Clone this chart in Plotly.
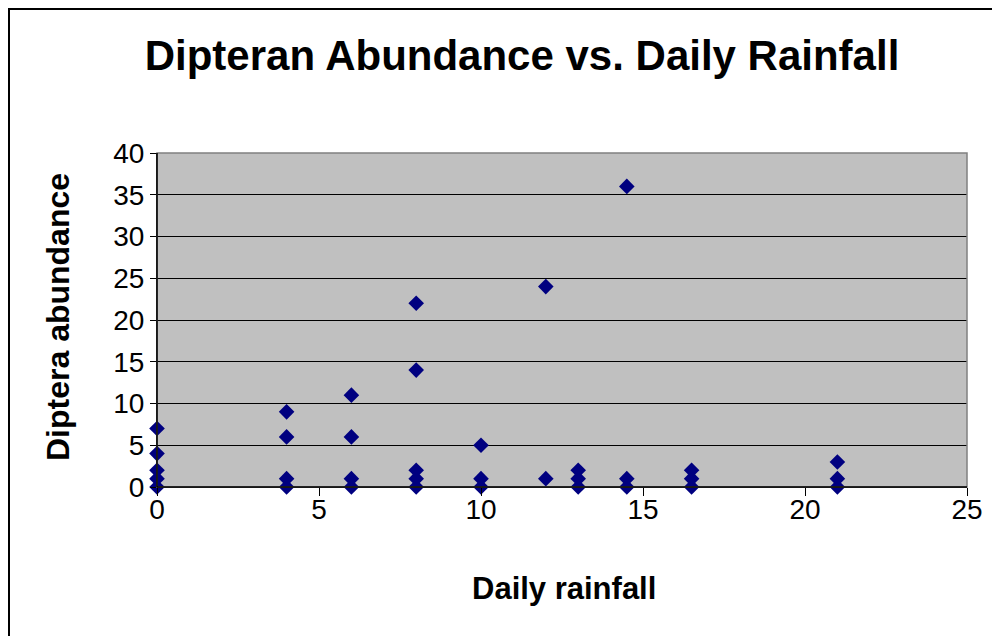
import plotly.graph_objects as go

rainfall = [0, 0, 0, 0, 0,
            4, 4, 4, 4,
            6, 6, 6, 6,
            8, 8, 8, 8, 8,
            10, 10, 10,
            12, 12,
            13, 13, 13,
            14.5, 14.5, 14.5,
            16.5, 16.5, 16.5,
            21, 21, 21]
abundance = [7, 4, 2, 1, 0,
             9, 6, 1, 0,
             11, 6, 1, 0,
             22, 14, 2, 1, 0,
             5, 1, 0,
             24, 1,
             2, 1, 0,
             36, 1, 0,
             2, 1, 0,
             3, 1, 0]

x_ticks = [0, 5, 10, 15, 20, 25]
y_ticks = [0, 5, 10, 15, 20, 25, 30, 35, 40]

FONT = "Liberation Sans, Arial, sans-serif"

# page has an 8px body margin: figure occupies screen 8..1000 x 8..636
W, H = 992, 628
L, T = 149, 145
PW, PH = 810, 334
R = W - L - PW
B = H - T - PH

fig = go.Figure()
fig.add_trace(go.Scatter(
    x=rainfall, y=abundance, mode="markers",
    marker=dict(symbol="diamond", size=12, color="#000080", line=dict(width=0)),
    showlegend=False, cliponaxis=False,
))

fig.update_layout(
    width=W, height=H,
    margin=dict(l=L, r=R, t=T, b=B),
    paper_bgcolor="white",
    plot_bgcolor="#C0C0C0",
    font=dict(family=FONT, color="black"),
    title=dict(text="<b>Dipteran Abundance vs. Daily Rainfall</b>",
               x=(522 - 8) / W, xanchor="center", xref="container",
               y=1 - (55 - 8) / H, yanchor="middle", yref="container",
               font=dict(size=42, family=FONT, color="black")),
    xaxis=dict(range=[0, 25], tickvals=x_ticks, ticks="outside", ticklen=8,
               tickcolor="black", tickwidth=1, showgrid=False, zeroline=False,
               showline=True, linecolor="black", linewidth=1,
               tickfont=dict(size=28, family=FONT), ticklabelstandoff=-11),
    yaxis=dict(range=[0, 40], tickvals=y_ticks, ticks="outside", ticklen=6,
               tickcolor="black", tickwidth=1, showgrid=True, gridcolor="black",
               gridwidth=1, zeroline=False,
               showline=True, linecolor="black", linewidth=1,
               tickfont=dict(size=28, family=FONT)),
    annotations=[
        dict(text="<b>Daily rainfall</b>", xref="paper", yref="paper",
             x=(564 - 157) / PW, y=(487 - 588) / PH, xanchor="center", yanchor="middle",
             showarrow=False, font=dict(size=31, family=FONT)),
        dict(text="<b>Diptera abundance</b>", xref="paper", yref="paper",
             x=(58 - 157) / PW, y=(487 - 317) / PH, xanchor="center", yanchor="middle",
             textangle=-90, showarrow=False, font=dict(size=32, family=FONT)),
    ],
    shapes=[
        dict(type="rect", xref="paper", yref="paper", x0=0, x1=1, y0=0, y1=1,
             line=dict(color="#808080", width=1.5), fillcolor="rgba(0,0,0,0)", layer="above"),
        dict(type="line", xref="paper", yref="paper", x0=0, x1=0, y0=0, y1=1,
             line=dict(color="black", width=1.5), layer="above"),
        dict(type="line", xref="paper", yref="paper", x0=0, x1=1, y0=0, y1=0,
             line=dict(color="black", width=1.5), layer="above"),
        dict(type="rect", xref="paper", yref="paper",
             x0=(1 - L) / PW, x1=1.2, y0=-0.6, y1=1 + (T - 1) / PH,
             line=dict(color="black", width=2), fillcolor="rgba(0,0,0,0)", layer="above"),
    ],
)

fig.write_html("out.html")
